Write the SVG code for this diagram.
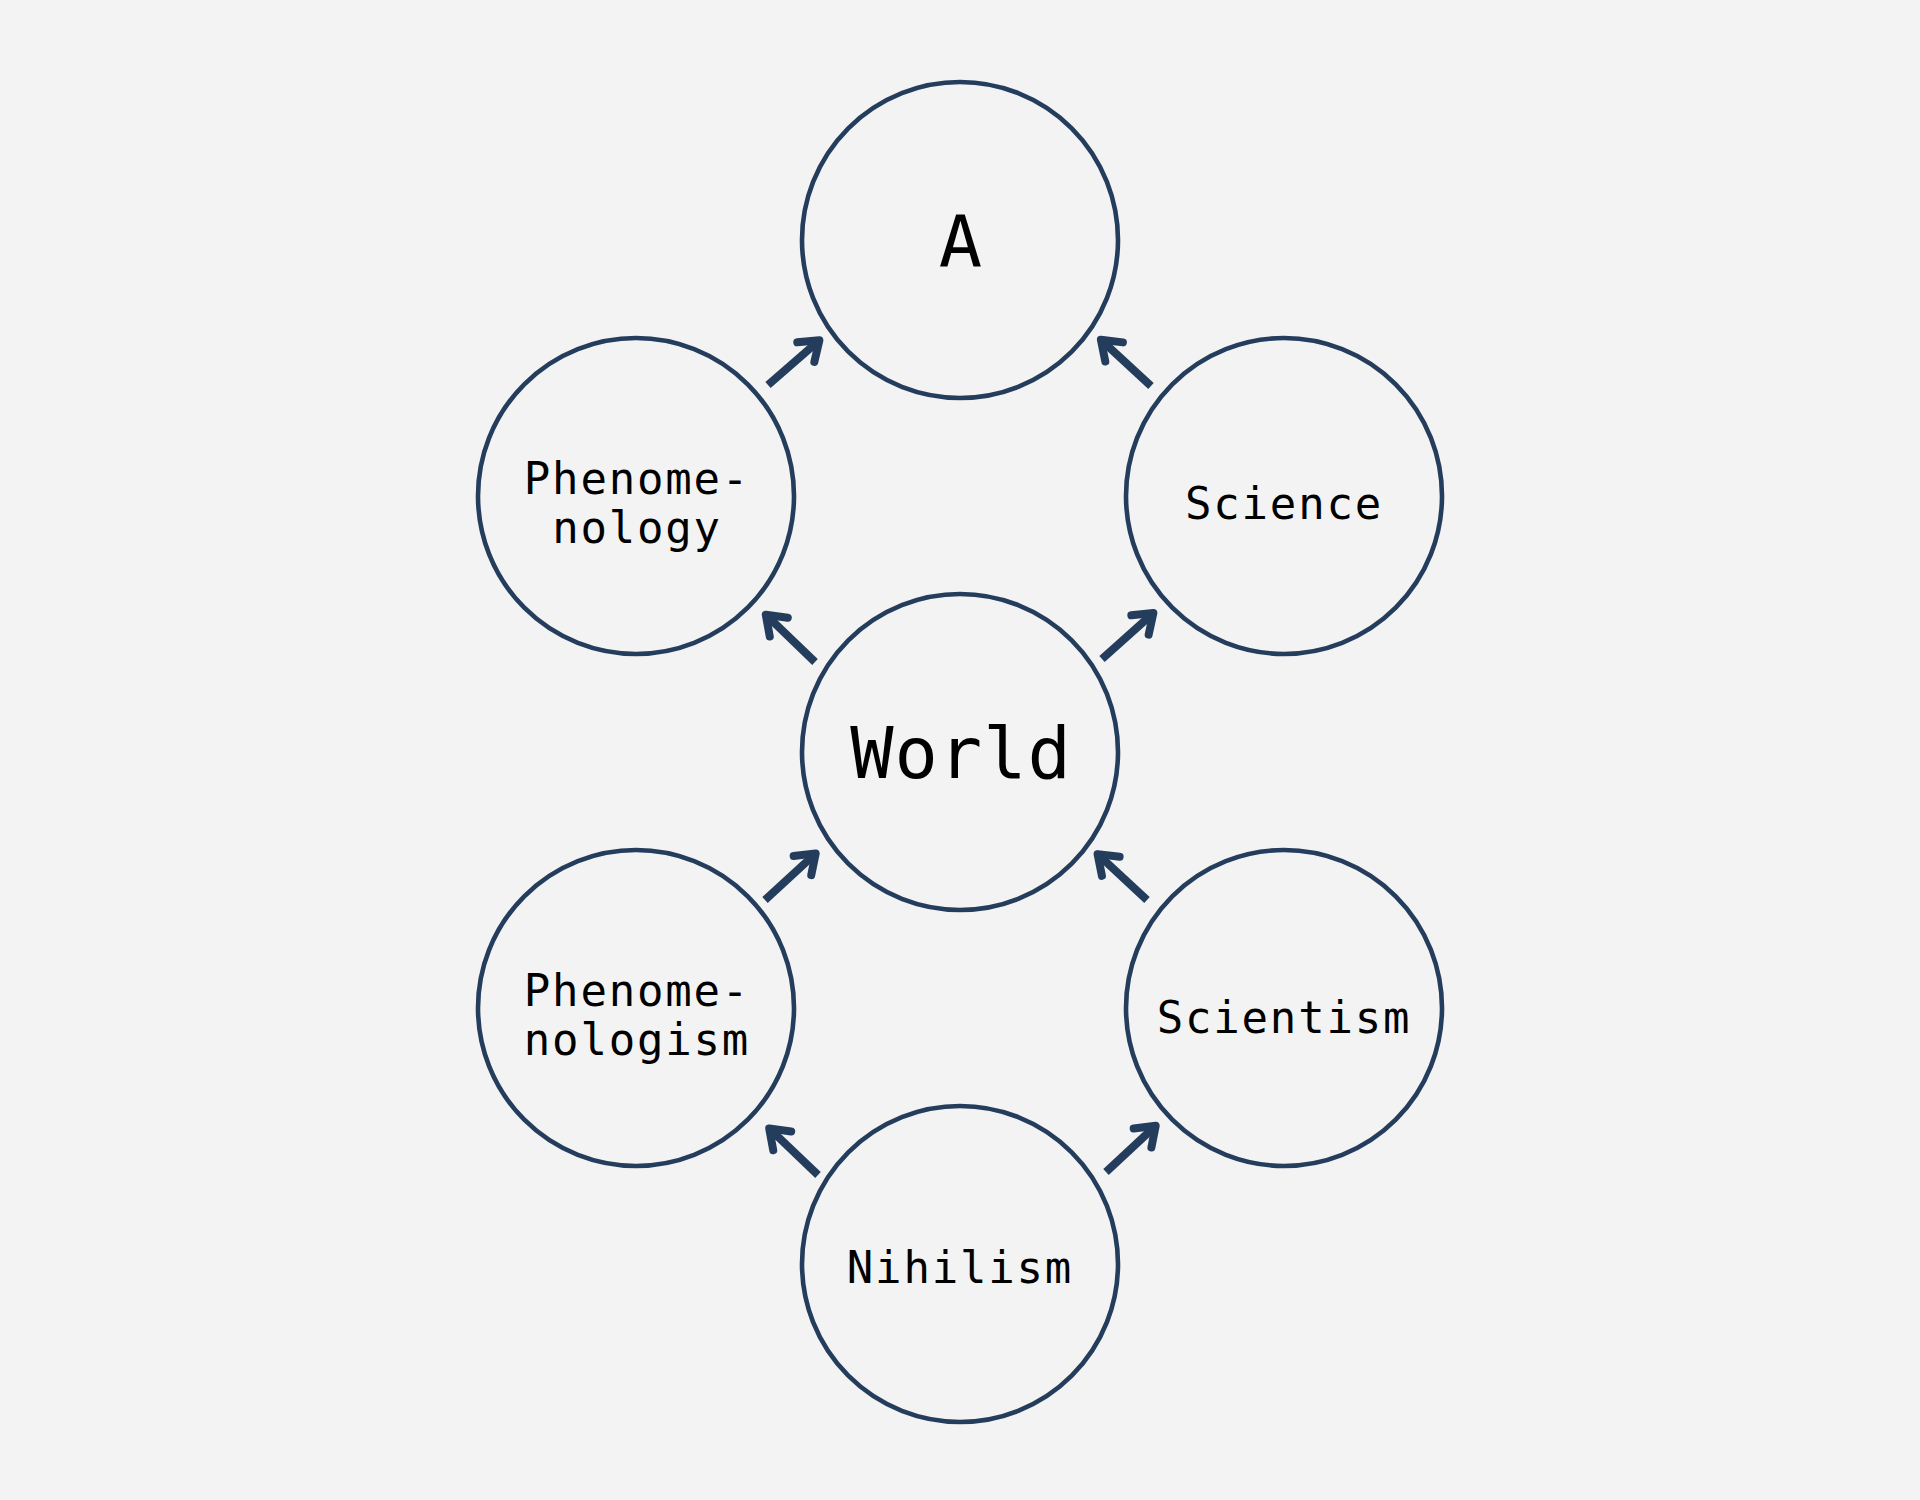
<svg xmlns="http://www.w3.org/2000/svg" width="1920" height="1500" viewBox="0 0 1920 1500">
  <style>
    .node circle { fill: #f3f3f3; stroke: #253d5c; stroke-width: 4.6; }
    .lbl { font-family: "DejaVu Sans Mono", "Liberation Mono", monospace; font-size: 44px; letter-spacing: 1.8px; fill: #000; text-anchor: middle; }
    .big { font-family: "DejaVu Sans Mono", "Liberation Mono", monospace; font-size: 72px; letter-spacing: 1px; fill: #000; text-anchor: middle; }
    .edge { stroke: #253d5c; stroke-width: 8; fill: none; marker-end: url(#head); }
  </style>
  <defs>
    <marker id="head" markerUnits="userSpaceOnUse" orient="auto" refX="0" refY="0" markerWidth="40" markerHeight="40" overflow="visible">
      <path d="M-18,-13 L0,0 L-18,13" fill="none" stroke="#253d5c" stroke-width="8" stroke-linecap="round" stroke-linejoin="round"/>
    </marker>
  </defs>
  <rect x="0" y="0" width="1920" height="1500" fill="#f3f3f3"/>

  <g id="node-a" class="node">
    <circle cx="960" cy="240" r="158"/>
    <text class="big" x="961" y="267">A</text>
  </g>
  <g id="node-phenomenology" class="node">
    <circle cx="636" cy="496" r="158"/>
    <text class="lbl" x="637" y="494">Phenome-</text>
    <text class="lbl" x="637" y="543">nology</text>
  </g>
  <g id="node-science" class="node">
    <circle cx="1284" cy="496" r="158"/>
    <text class="lbl" x="1284" y="519">Science</text>
  </g>
  <g id="node-world" class="node">
    <circle cx="960" cy="752" r="158"/>
    <text class="big" x="961" y="778">World</text>
  </g>
  <g id="node-phenomenologism" class="node">
    <circle cx="636" cy="1008" r="158"/>
    <text class="lbl" x="637" y="1006">Phenome-</text>
    <text class="lbl" x="637" y="1055">nologism</text>
  </g>
  <g id="node-scientism" class="node">
    <circle cx="1284" cy="1008" r="158"/>
    <text class="lbl" x="1284" y="1033">Scientism</text>
  </g>
  <g id="node-nihilism" class="node">
    <circle cx="960" cy="1264" r="158"/>
    <text class="lbl" x="960" y="1283">Nihilism</text>
  </g>

  <g id="connectors">
    <line class="edge" x1="768" y1="385" x2="819.4" y2="340.3"/>
    <line class="edge" x1="1151" y1="386" x2="1100.9" y2="339.7"/>
    <line class="edge" x1="815" y1="662" x2="765.8" y2="614.7"/>
    <line class="edge" x1="1102" y1="659" x2="1153.4" y2="613"/>
    <line class="edge" x1="765" y1="900" x2="815.7" y2="853.4"/>
    <line class="edge" x1="1147" y1="900" x2="1097.6" y2="854.1"/>
    <line class="edge" x1="818" y1="1175" x2="769.2" y2="1128.4"/>
    <line class="edge" x1="1106" y1="1172" x2="1155.7" y2="1125.7"/>
  </g>
</svg>
